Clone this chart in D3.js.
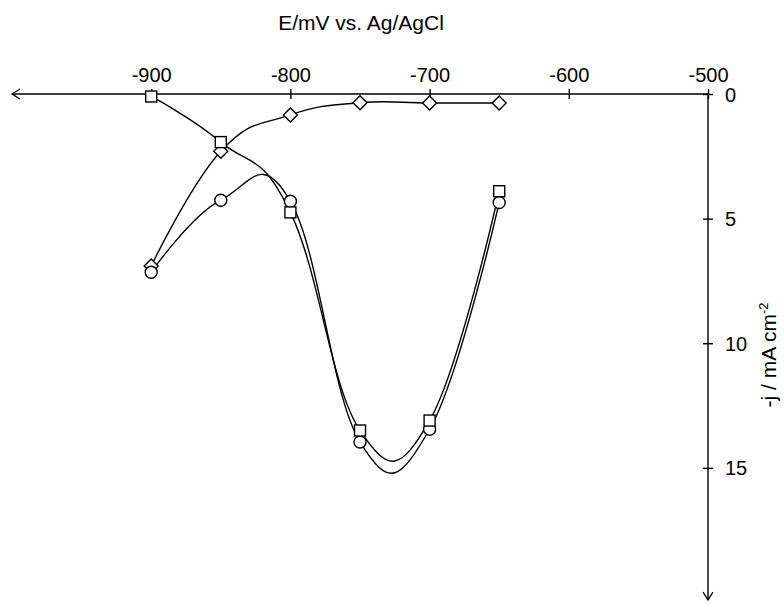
<!DOCTYPE html>
<html>
<head>
<meta charset="utf-8">
<script src="https://cdn.jsdelivr.net/npm/d3@7"></script>
<style>
  html, body { margin: 0; padding: 0; background: #fff; }
  svg { display: block; }
  text { font-family: "Liberation Sans", Arial, Helvetica, sans-serif; fill: #000; }
</style>
</head>
<body>
<svg id="chart" width="784" height="604"></svg>
<script>
// ---- data ----
const potentials = [-900, -850, -800, -750, -700, -650];        // E / mV vs Ag/AgCl
const squareSeries  = [0.1, 1.93, 4.75, 13.5, 13.1, 3.9];        // -j / mA cm-2
const circleSeries  = [7.15, 4.26, 4.3, 13.96, 13.45, 4.35];
const diamondSeries = [6.9, 2.3, 0.84, 0.35, 0.36, 0.36];
const xTicks = [-900, -800, -700, -600, -500];
const yTicks = [0, 5, 10, 15];
const xTitle = "E/mV vs. Ag/AgCl";

// ---- layout ----
const svg = d3.select("#chart");
const x = d3.scaleLinear().domain([-1000, -500]).range([12, 708]);
const y = d3.scaleLinear().domain([0, 20.3]).range([94, 600]);
const FS = 20;

const ax = svg.append("g").attr("stroke", "#000").attr("stroke-width", 1.4).attr("fill", "none");
// horizontal axis with left arrow
ax.append("line").attr("x1", x(-1000)).attr("x2", x(-500)).attr("y1", y(0)).attr("y2", y(0));
ax.append("path").attr("d", `M${x(-1000)+8},${y(0)-5}L${x(-1000)},${y(0)}L${x(-1000)+8},${y(0)+5}`);
// vertical axis with bottom arrow
ax.append("line").attr("x1", x(-500)).attr("x2", x(-500)).attr("y1", y(0)).attr("y2", y(20.3));
ax.append("path").attr("d", `M${x(-500)-5},${y(20.3)-8}L${x(-500)},${y(20.3)}L${x(-500)+5},${y(20.3)-8}`);

// x ticks (top axis, crossing ticks)
const xAxis = svg.append("g").attr("transform", `translate(0,${y(0)})`)
  .call(d3.axisTop(x).tickValues(xTicks).tickSize(5).tickPadding(0).tickFormat(d3.format("d")));
xAxis.select(".domain").remove();
xAxis.selectAll(".tick line").attr("y1", 5).attr("stroke", "#000").attr("stroke-width", 1.4);
xAxis.selectAll(".tick text").attr("y", -12).attr("dy", 0)
  .attr("font-size", FS).attr("font-family", "Liberation Sans, Arial, sans-serif").attr("fill", "#000")
  .text(d => String(d).replace("−", "-"));

// y ticks (right axis, crossing ticks)
const yAxis = svg.append("g").attr("transform", `translate(${x(-500)},0)`)
  .call(d3.axisRight(y).tickValues(yTicks).tickSize(5).tickPadding(0));
yAxis.select(".domain").remove();
yAxis.selectAll(".tick line").attr("x1", -5).attr("stroke", "#000").attr("stroke-width", 1.4);
yAxis.selectAll(".tick text").attr("x", 17).attr("dy", "0.35em")
  .attr("font-size", FS).attr("font-family", "Liberation Sans, Arial, sans-serif").attr("fill", "#000")
  .attr("text-anchor", "start");

// titles
svg.append("text").attr("x", 361).attr("y", 30).attr("text-anchor", "middle")
  .attr("font-size", 21).text(xTitle);
const yl = svg.append("text").attr("transform", "translate(776,355) rotate(-90)")
  .attr("text-anchor", "middle").attr("font-size", 21);
yl.append("tspan").text("-j / mA cm");
yl.append("tspan").attr("dy", -8).attr("font-size", 13).text("-2");

// ---- series ----
const line = d3.line().x((d, i) => x(potentials[i])).y(d => y(d))
  .curve(d3.curveCardinal.tension(-0.27));
const seriesList = [
  { name: "diamond", vals: diamondSeries },
  { name: "circle", vals: circleSeries },
  { name: "square", vals: squareSeries }
];
const lines = svg.append("g").attr("fill", "none").attr("stroke", "#000").attr("stroke-width", 1.4);
seriesList.forEach(s => lines.append("path").attr("d", line(s.vals)));

const marks = svg.append("g").attr("fill", "#fff").attr("stroke", "#000").attr("stroke-width", 1.4);
function drawMarker(kind, cx, cy) {
  if (kind === "square") {
    marks.append("rect").attr("x", cx - 5.5).attr("y", cy - 5.5).attr("width", 11).attr("height", 11);
  } else if (kind === "circle") {
    marks.append("circle").attr("cx", cx).attr("cy", cy).attr("r", 6);
  } else {
    marks.append("path").attr("d", `M${cx},${cy-7}L${cx+7},${cy}L${cx},${cy+7}L${cx-7},${cy}Z`);
  }
}
// draw order: diamonds, circles, squares
seriesList.forEach(s => s.vals.forEach((v, i) => drawMarker(s.name, x(potentials[i]), y(v))));
</script>
</body>
</html>
